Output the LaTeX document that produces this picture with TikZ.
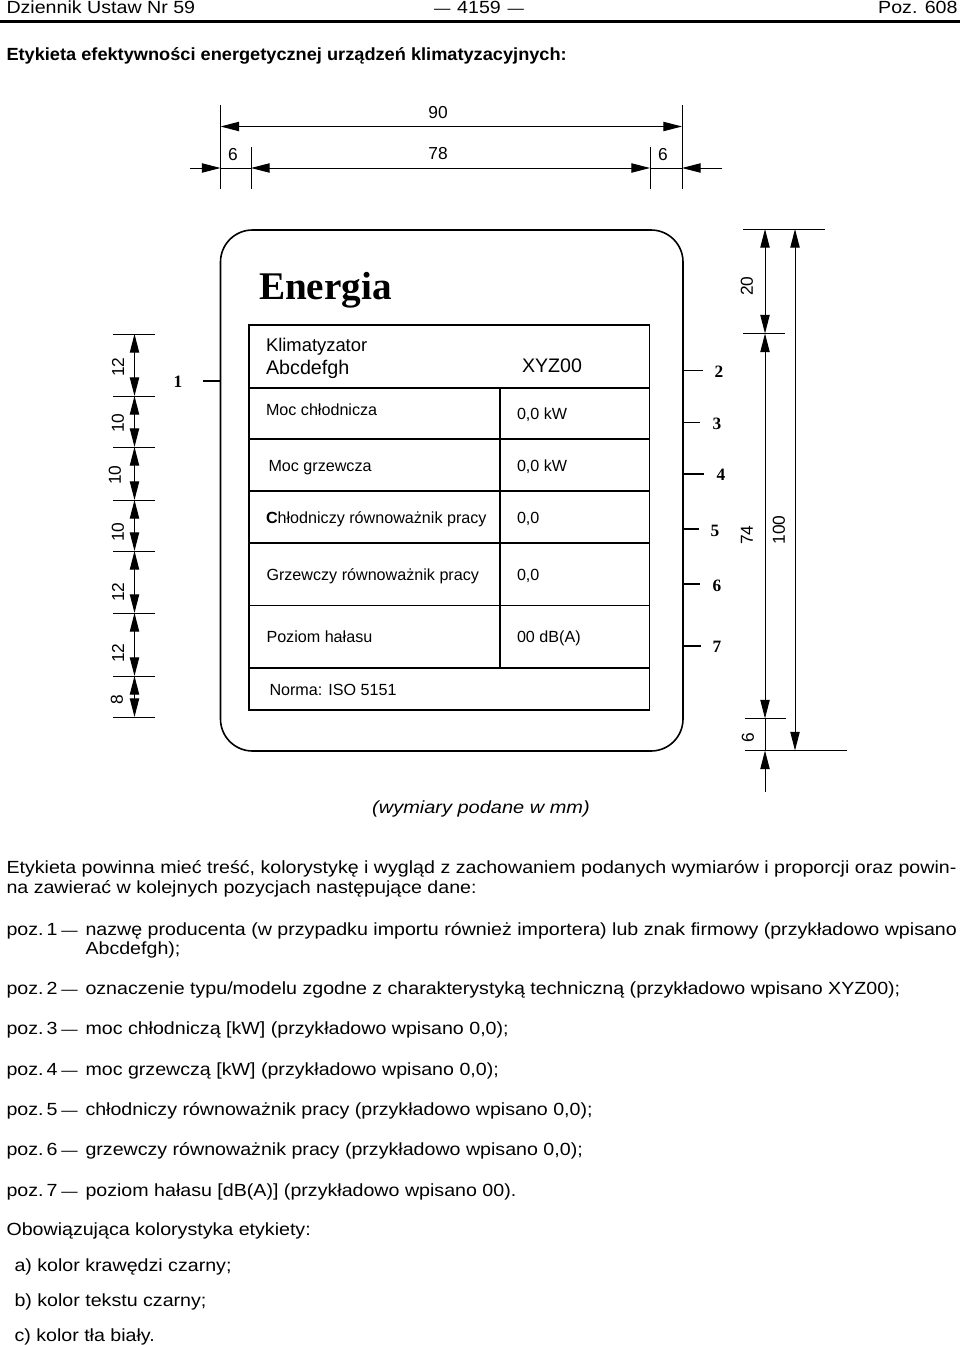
\documentclass[tikz,border=0pt]{standalone}
\usepackage{fontspec}
\usetikzlibrary{arrows.meta}
\setmainfont{Liberation Sans}
\newfontfamily\bodyfont[FakeStretch=1.115]{Liberation Sans}
\newfontfamily\boldbodyfont[FakeStretch=1.034]{Liberation Sans Bold}
\newfontfamily\italbodyfont[FakeStretch=1.135]{Liberation Sans Italic}
\newfontfamily\titlefont{Liberation Serif}
\newcommand{\pozdash}{{\fontsize{11pt}{15pt}\selectfont —}}

\tikzset{every picture/.style={line width=0.75pt}}
\tikzset{
  dimline/.style={line width=0.75pt,{Triangle[length=14pt,width=7pt]}-{Triangle[length=14pt,width=7pt]}},
  stubline/.style={line width=0.75pt,-{Triangle[length=14pt,width=7pt]}},
  extline/.style={line width=0.75pt},
  leaderline/.style={line width=1.4pt},
  tableline/.style={line width=0.8pt},
  txt/.style={anchor=base west,inner sep=0pt,font=\bodyfont\fontsize{13.2pt}{15pt}\selectfont},
  dimtxt/.style={inner sep=0pt,font=\fontsize{13pt}{15pt}\selectfont},
  dimtxtv/.style={dimtxt,rotate=90},
  cell/.style={anchor=base west,inner sep=0pt,font=\fontsize{12.1pt}{14pt}\selectfont},
  poznr/.style={inner sep=0pt,font=\titlefont\bfseries\fontsize{13pt}{15pt}\selectfont}
}

\begin{document}
\begin{tikzpicture}[x=0.75pt,y=0.75pt,yscale=-1,xscale=1]
\useasboundingbox (0,0) rectangle (960,1345);

% Page header
\node [txt] (dzien) at (6,14) {Dziennik Ustaw Nr 59};
\node [txt,anchor=base] (strona) at (479,14) {\pozdash{}\hspace{1pt} 4159 \hspace{1pt}\pozdash};
\node [txt,anchor=base east] (pozycja) at (958,14) {Poz. 608};
\draw [line width=1.6pt] (0,21.5) -- (960,21.5) ;
\node [txt,font=\boldbodyfont\fontsize{13.2pt}{15pt}\selectfont] (tytul) at (6,60.5) {Etykieta efektywności energetycznej urządzeń klimatyzacyjnych:};

% Top dimensions
\draw [extline] (220.5,105) -- (220.5,189) ;
\draw [extline] (682,105) -- (682,189) ;
\draw [extline] (251,147) -- (251,189) ;
\draw [extline] (650,147) -- (650,189) ;
\draw [dimline] (220.5,126.5) -- (682,126.5) ;
\draw [dimline] (251,168) -- (650,168) ;
\draw [extline] (220.5,168) -- (251,168) ;
\draw [extline] (650,168) -- (682,168) ;
\draw [stubline] (190,168) -- (220.5,168) ;
\draw [stubline] (722,168) -- (682,168) ;
\node [dimtxt] (wym90) at (438,113) {90};
\node [dimtxt] (wym78) at (438,154) {78};
\node [dimtxt] (wym6a) at (233,155) {6};
\node [dimtxt] (wym6b) at (663,155) {6};

% Label outline
\draw [line width=1.2pt,rounded corners=24pt] (220.5,230) rectangle (683,751) ;
\node [inner sep=0pt,anchor=base west,font=\titlefont\bfseries\fontsize{29.4pt}{32pt}\selectfont] (energia) at (258.5,299) {Energia};

% Table
\draw [tableline] (249,325) rectangle (649.5,710) ;
\draw [tableline] (249,388) -- (649.5,388) ;
\draw [tableline] (249,439) -- (649.5,439) ;
\draw [tableline] (249,491) -- (649.5,491) ;
\draw [tableline] (249,543) -- (649.5,543) ;
\draw [tableline] (249,605.5) -- (649.5,605.5) ;
\draw [tableline] (249,668) -- (649.5,668) ;
\draw [tableline] (500,388) -- (500,668) ;
\node [cell,font=\fontsize{13.8pt}{17pt}\selectfont] (klimat) at (265.5,351.5) {Klimatyzator};
\node [cell,font=\fontsize{14.8pt}{17pt}\selectfont] (abc) at (265.5,374) {Abcdefgh};
\node [cell,font=\fontsize{14.7pt}{17pt}\selectfont] (xyz) at (521.5,372) {XYZ00};
\node [cell] (chlodz) at (265.5,415) {Moc chłodnicza};
\node [cell] (grzew) at (268,471.5) {Moc grzewcza};
\node [cell] (rchlodz) at (265.5,523) {\textbf{C}hłodniczy równoważnik pracy};
\node [cell] (rgrzew) at (266,580.5) {Grzewczy równoważnik pracy};
\node [cell] (halas) at (266,642.5) {Poziom hałasu};
\node [cell] (norma) at (269,695.5) {Norma: ISO 5151};
\node [cell] (w1) at (516.5,419) {0,0 kW};
\node [cell] (w2) at (516.5,471.5) {0,0 kW};
\node [cell] (w3) at (516.5,523) {0,0};
\node [cell] (w4) at (516.5,580.5) {0,0};
\node [cell] (w5) at (516.5,642.5) {00 dB(A)};

% Left dimensions
\draw [extline] (113,334) -- (155,334) ;
\draw [extline] (113,396) -- (155,396) ;
\draw [extline] (113,447) -- (155,447) ;
\draw [extline] (113,500) -- (155,500) ;
\draw [extline] (113,551) -- (155,551) ;
\draw [extline] (113,613) -- (155,613) ;
\draw [extline] (113,676) -- (155,676) ;
\draw [extline] (113,717) -- (155,717) ;
\draw [dimline] (134.5,334) -- (134.5,396) ;
\draw [dimline] (134.5,396) -- (134.5,447) ;
\draw [dimline] (134.5,447) -- (134.5,500) ;
\draw [dimline] (134.5,500) -- (134.5,551) ;
\draw [dimline] (134.5,551) -- (134.5,613) ;
\draw [dimline] (134.5,613) -- (134.5,676) ;
\draw [dimline] (134.5,676) -- (134.5,717) ;
\node [dimtxtv] (lw1) at (118,367) {12};
\node [dimtxtv] (lw2) at (118,423) {10};
\node [dimtxtv] (lw3) at (115,475) {10};
\node [dimtxtv] (lw4) at (118,532) {10};
\node [dimtxtv] (lw5) at (118,592) {12};
\node [dimtxtv] (lw6) at (118,653) {12};
\node [dimtxtv] (lw7) at (117,700) {8};

% Position leaders
\node [poznr] (nr1) at (178,382) {1};
\node [poznr] (nr2) at (719,372) {2};
\node [poznr] (nr3) at (717,424) {3};
\node [poznr] (nr4) at (721,475) {4};
\node [poznr] (nr5) at (715,531) {5};
\node [poznr] (nr6) at (717,586) {6};
\node [poznr] (nr7) at (717,647) {7};
\draw [leaderline] (220.5,381) -- (203,381) ;
\draw [leaderline] (683,370.5) -- (702.5,370.5) ;
\draw [leaderline] (683,422.5) -- (700,422.5) ;
\draw [leaderline] (683,474) -- (704,474) ;
\draw [leaderline] (683,529) -- (699,529) ;
\draw [leaderline] (683,584) -- (700,584) ;
\draw [leaderline] (683,646) -- (700.5,646) ;

% Right dimensions
\draw [extline] (743,229) -- (825,229) ;
\draw [extline] (743,333.5) -- (785,333.5) ;
\draw [extline] (745,718.5) -- (786,718.5) ;
\draw [extline] (745,750.5) -- (847,750.5) ;
\draw [dimline] (765,229) -- (765,333.5) ;
\draw [dimline] (765,333.5) -- (765,718.5) ;
\draw [extline] (765,718.5) -- (765,750.5) ;
\draw [stubline] (765,792) -- (765,750.5) ;
\draw [dimline] (795,229) -- (795,750.5) ;
\node [dimtxtv] (rw20) at (747,286) {20};
\node [dimtxtv] (rw74) at (747,535) {74};
\node [dimtxtv] (rw100) at (779,530) {100};
\node [dimtxtv] (rw6) at (748,738) {6};

% Text below
\node [txt,anchor=base,font=\italbodyfont\fontsize{13.2pt}{15pt}\selectfont] (wymiary) at (481,813) {(wymiary podane w mm)};
\node [txt] (opis1) at (6,873.5) {Etykieta powinna mieć treść, kolorystykę i wygląd z zachowaniem podanych wymiarów i proporcji oraz powin-};
\node [txt] (opis2) at (6,893) {na zawierać w kolejnych pozycjach następujące dane:};
\node [txt] (poz1) at (6,935) {poz.\,1\hspace{3pt}\pozdash};
\node [txt] (tresc1) at (85,935) {nazwę producenta (w przypadku importu również importera) lub znak firmowy (przykładowo wpisano};
\node [txt] (tresc1b) at (85,954.5) {Abcdefgh);};
\node [txt] (poz2) at (6,994) {poz.\,2\hspace{3pt}\pozdash};
\node [txt] (tresc2) at (85,994) {oznaczenie typu/modelu zgodne z charakterystyką techniczną (przykładowo wpisano XYZ00);};
\node [txt] (poz3) at (6,1034) {poz.\,3\hspace{3pt}\pozdash};
\node [txt] (tresc3) at (85,1034) {moc chłodniczą [kW] (przykładowo wpisano 0,0);};
\node [txt] (poz4) at (6,1075) {poz.\,4\hspace{3pt}\pozdash};
\node [txt] (tresc4) at (85,1075) {moc grzewczą [kW] (przykładowo wpisano 0,0);};
\node [txt] (poz5) at (6,1115) {poz.\,5\hspace{3pt}\pozdash};
\node [txt] (tresc5) at (85,1115) {chłodniczy równoważnik pracy (przykładowo wpisano 0,0);};
\node [txt] (poz6) at (6,1155.5) {poz.\,6\hspace{3pt}\pozdash};
\node [txt] (tresc6) at (85,1155.5) {grzewczy równoważnik pracy (przykładowo wpisano 0,0);};
\node [txt] (poz7) at (6,1196.5) {poz.\,7\hspace{3pt}\pozdash};
\node [txt] (tresc7) at (85,1196.5) {poziom hałasu [dB(A)] (przykładowo wpisano 00).};
\node [txt] (kolory) at (6,1235.5) {Obowiązująca kolorystyka etykiety:};
\node [txt] (kola) at (14,1271) {a) kolor krawędzi czarny;};
\node [txt] (kolb) at (14,1306.5) {b) kolor tekstu czarny;};
\node [txt] (kolc) at (14,1341) {c) kolor tła biały.};

\end{tikzpicture}
\end{document}
